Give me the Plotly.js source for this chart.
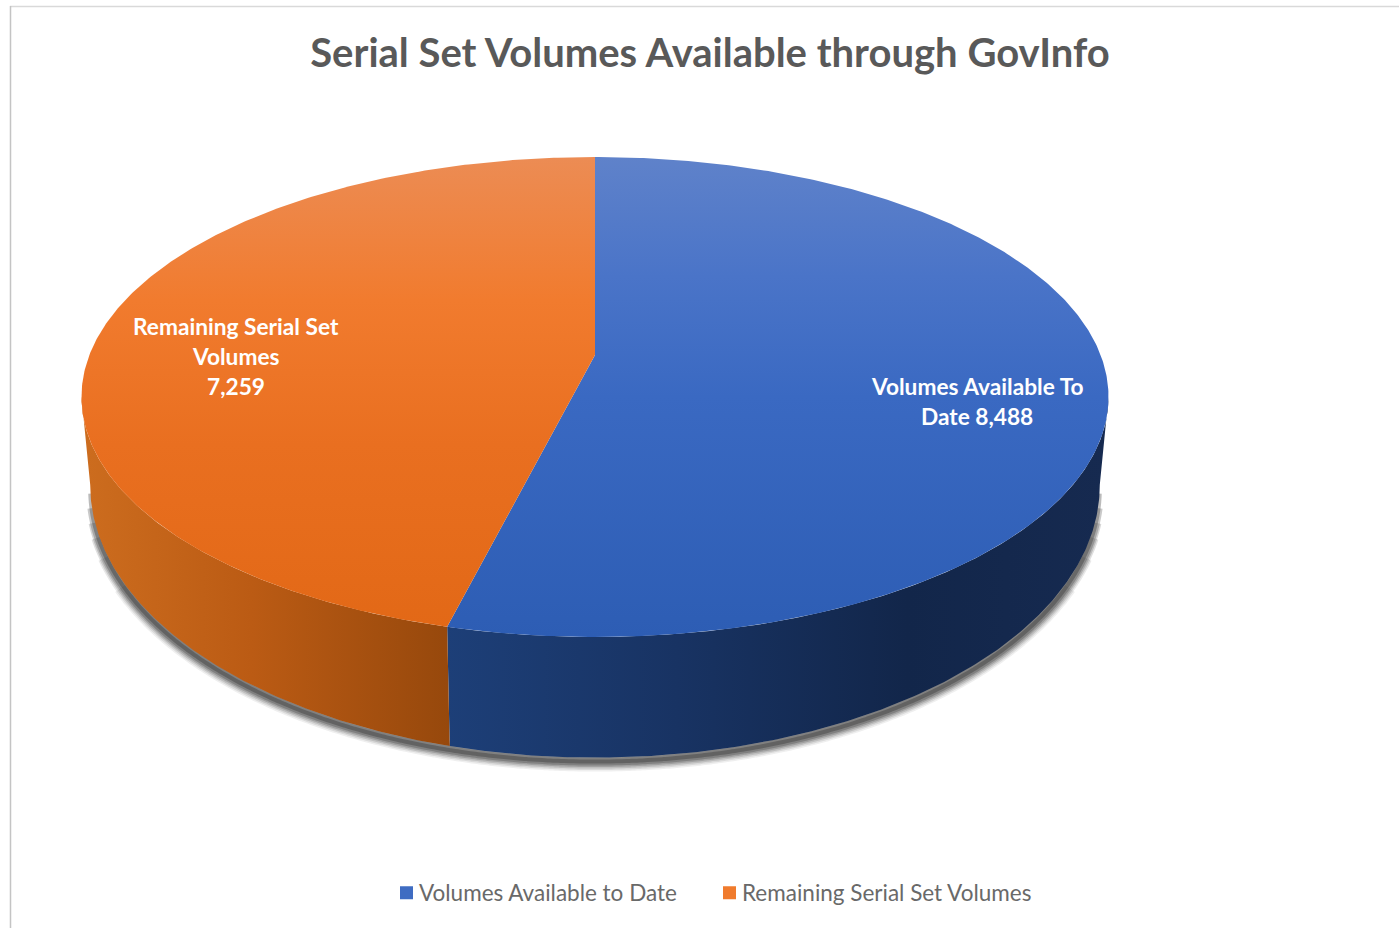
<!DOCTYPE html>
<html><head><meta charset="utf-8">
<script src="https://cdn.plot.ly/plotly-3.0.1.min.js"></script>
<style>html,body{margin:0;padding:0;background:#fff;overflow:hidden}#c{width:1399px;height:928px}</style>
</head><body><div id="c"></div>
<script>
const categories = ["Volumes Available to Date", "Remaining Serial Set Volumes"];
const volumes = [8488, 7259];
const labelLines = [["Volumes Available To", "Date 8,488"], ["Remaining Serial Set", "Volumes", "7,259"]];
const titleText = "Serial Set Volumes Available through GovInfo";

const W = 1399, H = 928, cx = 595, k = 0.175;
const topRim = {A: 505.6, a: 355, b: 170.5};
const botRim = {A: 497, a: 437.5, b: 187.5};
const swatch = ["#3f6cc2", "#f07b2d"];
const faceScale = [
  [[0,"#5f82ca"],[0.25,"#4a74c8"],[0.5,"#3a69c2"],[1,"#2d5db4"]],
  [[0,"#ec8c54"],[0.3,"#f17b2e"],[0.6,"#e96f20"],[1,"#e26816"]]
];
const wallScale = [
  {start:446, stop:1105, colorscale:[[0,"#1d3f78"],[0.35,"#183363"],[0.7,"#12264a"],[1,"#162a50"]]},
  {start:88, stop:452, colorscale:[[0,"#cc6c1e"],[0.45,"#bb5b14"],[1,"#96480c"]]}
];

function rim(r, deg, dy){
  const t = deg*Math.PI/180, v = -Math.cos(t), w = 1 - k*v;
  return [cx + r.A*Math.sin(t)/w, (r.a + r.b*v)/w + (dy||0)];
}
function arc(r, d0, d1, dy){
  const n = Math.max(2, Math.ceil(Math.abs(d1-d0)*2)), pts = [];
  for(let i=0;i<=n;i++) pts.push(rim(r, d0+(d1-d0)*i/n, dy));
  return pts;
}
const total = volumes.reduce((a,b)=>a+b,0);
const cut = 360*volumes[0]/total;
const faceRange = [[0,cut],[cut,360]];
const wallRange = [[100,cut],[cut,260]];
const hidden = {hoverinfo:"skip", showlegend:false};
const traces = [];

// soft shadow under the wall, tapering towards both sides
[[20,0.07,120],[17,0.1,114],[14,0.14,110],[11,0.18,107],[8,0.24,104],[4,0.3,101]].forEach(([w,o,d])=>{
  const p = arc(botRim, d, 360-d, 4);
  traces.push({type:"scatter",mode:"lines",x:p.map(q=>q[0]),y:p.map(q=>q[1]),
    line:{color:"rgba(30,30,30,"+o+")",width:w,shape:"spline"},...hidden});
});
// walls
wallRange.forEach((rg,i)=>{
  const p = arc(topRim,rg[0],rg[1]).concat(arc(botRim,rg[1],rg[0]));
  p.push(p[0]);
  traces.push({type:"scatter",mode:"lines",x:p.map(q=>q[0]),y:p.map(q=>q[1]),fill:"toself",
    line:{width:0,color:"rgba(0,0,0,0)"},
    fillgradient:{type:"horizontal",...wallScale[i]},...hidden});
});
// top faces
faceRange.forEach((rg,i)=>{
  const p = [[cx,topRim.a]].concat(arc(topRim,rg[0],rg[1]));
  p.push(p[0]);
  traces.push({type:"scatter",mode:"lines",x:p.map(q=>q[0]),y:p.map(q=>q[1]),fill:"toself",
    line:{width:0,color:"rgba(0,0,0,0)"},
    fillgradient:{type:"vertical",start:157,stop:637,colorscale:faceScale[i]},...hidden});
});
// legend entries
categories.forEach((name,i)=>{
  traces.push({type:"scatter",mode:"markers",name,x:[null],y:[null],
    marker:{symbol:"square",size:13,color:swatch[i]},hoverinfo:"skip"});
});

const labelAnchor = [[977,386],[236,326]];
const annotations = [];
labelLines.forEach((lines,i)=>lines.forEach((txt,j)=>{
  annotations.push({xref:"x",yref:"y",x:labelAnchor[i][0],y:labelAnchor[i][1]+30*j,text:txt,showarrow:false,
    xanchor:"center",yanchor:"middle",font:{family:"Lato, sans-serif",size:22.7,color:"#ffffff",weight:700}});
}));

const legendEntry = 300;
const layout = {
  width:W,height:H,margin:{l:0,r:0,t:0,b:0},paper_bgcolor:"#fff",plot_bgcolor:"#fff",
  title:{text:titleText,x:710/W,xanchor:"center",y:1-53/H,yanchor:"middle",
    font:{family:"Lato, sans-serif",size:40,color:"#595959",weight:700}},
  xaxis:{range:[0,W],visible:false,fixedrange:true},
  yaxis:{range:[H,0],visible:false,fixedrange:true},
  showlegend:true,
  legend:{orientation:"h",x:379/W,xanchor:"left",y:1-893/H,yanchor:"middle",
    font:{family:"Lato, sans-serif",size:22.5,color:"#696969"},bgcolor:"rgba(0,0,0,0)",
    itemwidth:30,entrywidth:legendEntry,entrywidthmode:"pixels"},
  annotations,
  shapes:[
    {type:"line",xref:"x",yref:"y",x0:10,x1:W,y0:6.5,y1:6.5,line:{color:"#d9d9d9",width:1.5}},
    {type:"line",xref:"x",yref:"y",x0:10.5,x1:10.5,y0:6,y1:H,line:{color:"#c4c4c4",width:1.5}}
  ]
};
Plotly.newPlot("c",traces,layout,{displayModeBar:false,staticPlot:true}).then(gd=>{
  // bring each legend swatch closer to its text, and the two entries closer together
  gd.querySelectorAll(".legend .legendpoints").forEach(n=>n.setAttribute("transform","translate(7.5,0)"));
  const items = gd.querySelectorAll(".legend .traces");
  const second = items[1];
  const m = /translate\(([-\d.]+)[ ,]+([-\d.]+)\)/.exec(second.getAttribute("transform"));
  second.setAttribute("transform","translate("+(parseFloat(m[1])-(legendEntry-278))+","+m[2]+")");
});
</script></body></html>
